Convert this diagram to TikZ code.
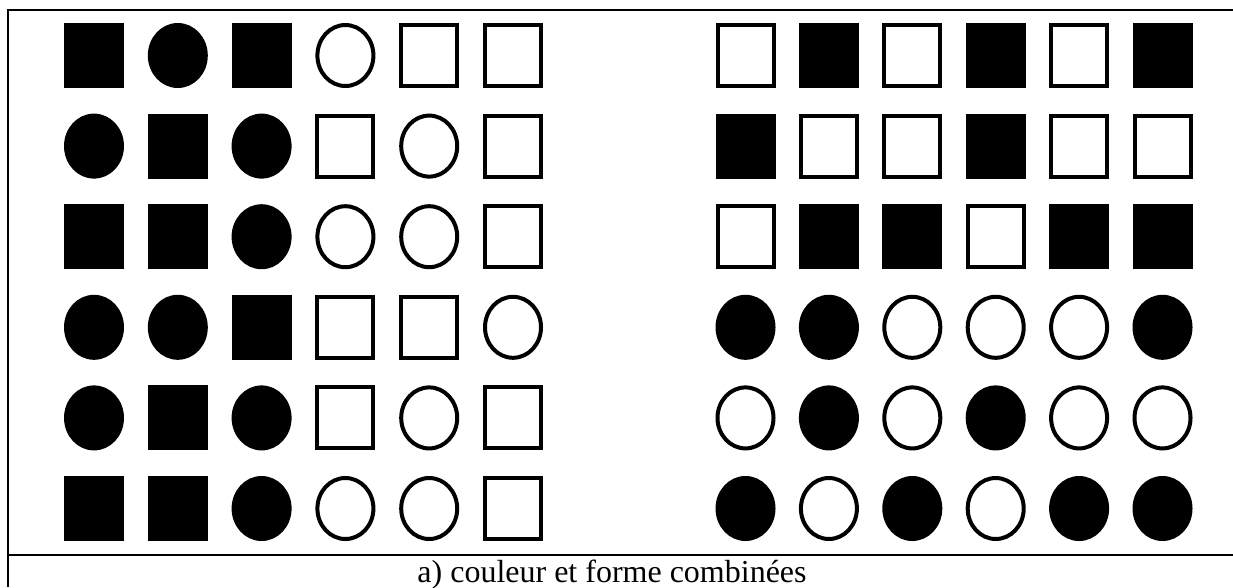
\documentclass[tikz,border=0pt]{standalone}
\usepackage{fontspec}
\setmainfont{Liberation Serif}
\usetikzlibrary{shapes.geometric}

\begin{document}
\begin{tikzpicture}[x=1pt,y=-1pt,
  shp/.style={draw=black,line width=4pt,inner sep=0pt,minimum width=56pt,minimum height=61pt},
  osq/.style={shp,rectangle,fill=white},
  fsq/.style={shp,rectangle,fill=black},
  oci/.style={shp,ellipse,fill=white},
  fci/.style={shp,ellipse,fill=black},
  frame/.style={line width=2pt}]
\useasboundingbox (0,0) rectangle (1233,587);

% cadre
\coordinate (tl) at (8,10);
\coordinate (tr) at (1233,10);
\coordinate (bl) at (8,587);
\coordinate (ml) at (8,555);
\coordinate (mr) at (1233,555);
\draw[frame] (bl) -- (tl) -- (tr);
\draw[frame] (ml) -- (mr);

% grille de gauche
\foreach \row [count=\i] in {{fsq,fci,fsq,oci,osq,osq},{fci,fsq,fci,osq,oci,osq},{fsq,fsq,fci,oci,oci,osq},{fci,fci,fsq,osq,osq,oci},{fci,fsq,fci,osq,oci,osq},{fsq,fsq,fci,oci,oci,osq}}
  \foreach \s [count=\j] in \row
    \node[\s] (L\i\j) at ({94+83.8*(\j-1)},{55.5+90.6*(\i-1)}) {};

% grille de droite
\foreach \row [count=\i] in {{osq,fsq,osq,fsq,osq,fsq},{fsq,osq,osq,fsq,osq,osq},{osq,fsq,fsq,osq,fsq,fsq},{fci,fci,oci,oci,oci,fci},{oci,fci,oci,fci,oci,oci},{fci,oci,fci,oci,fci,fci}}
  \foreach \s [count=\j] in \row
    \node[\s] (R\i\j) at ({745.5+83.4*(\j-1)},{55.5+90.6*(\i-1)}) {};

\node[anchor=base,font=\fontsize{32}{36}\selectfont,inner sep=0pt] (cap) at (612,582) {a) couleur et forme combinées};
\end{tikzpicture}
\end{document}
